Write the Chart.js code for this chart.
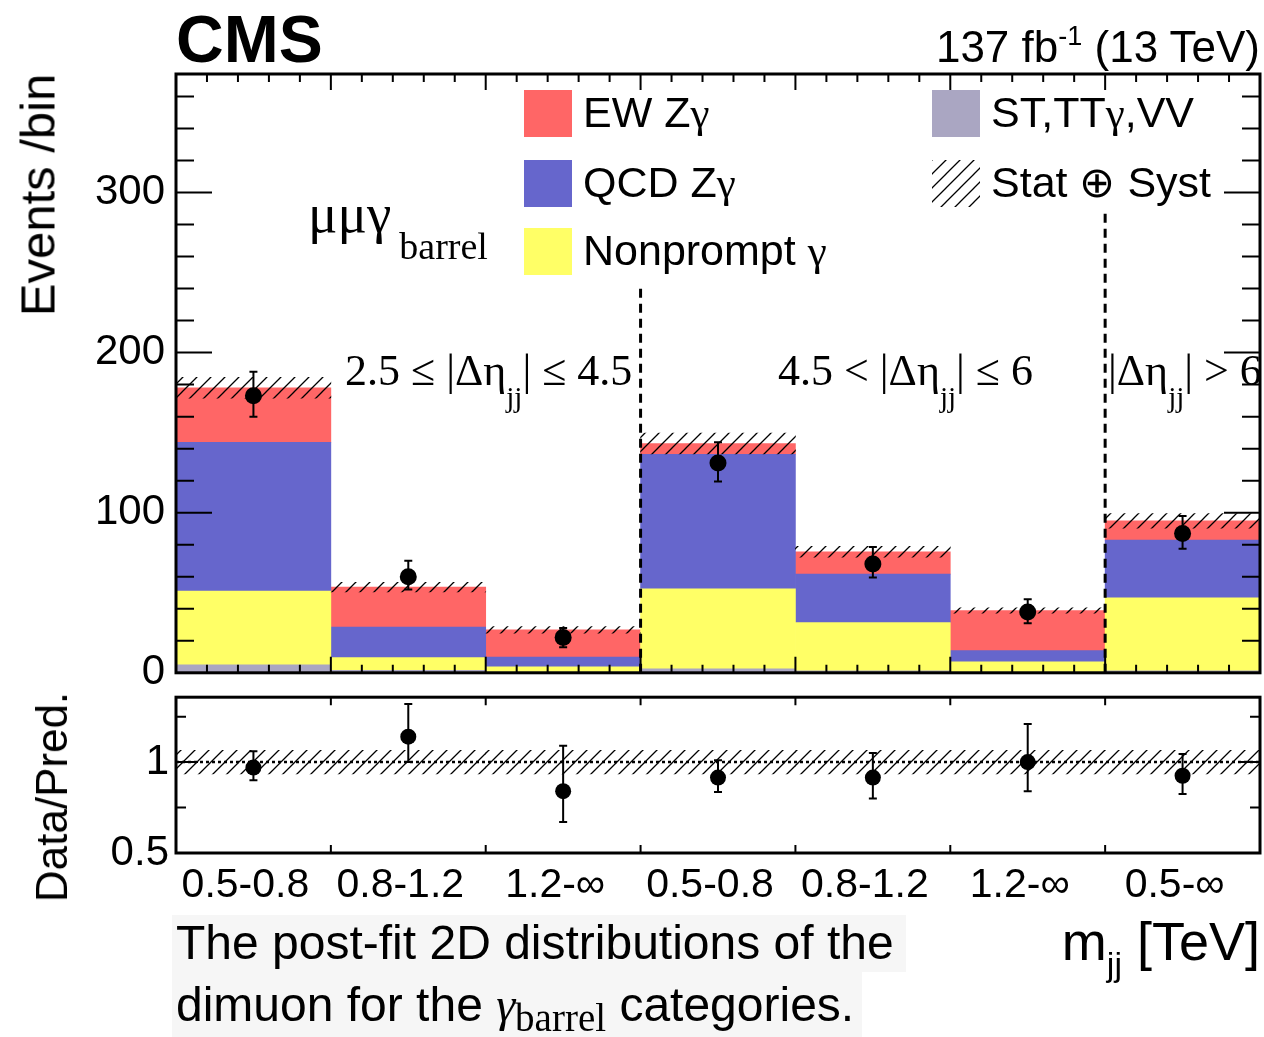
<!DOCTYPE html>
<html>
<head>
<meta charset="utf-8">
<script src="https://cdn.jsdelivr.net/npm/chart.js@4.4.0/dist/chart.umd.min.js"></script>
<style>
  body { margin: 0; background: #fff; width: 1264px; height: 1037px; position: relative; overflow: hidden;
         font-family: "Liberation Sans", Arial, Helvetica, sans-serif; color: #000; }
  canvas { position: absolute; left: 0; }
  #main { top: 0; }
  #ratio { top: 665px; }
  .t { position: absolute; white-space: nowrap; line-height: 1; }
  .serif { font-family: "Liberation Serif", "Times New Roman", serif; }
  .r { position: relative; }
  .box { position: absolute; width: 48px; height: 47px; }
  .capbg { position: absolute; background: #f6f6f6; }
</style>
</head>
<body>
<div class="capbg" style="left:172px;top:915px;width:734px;height:57px"></div>
<div class="capbg" style="left:172px;top:972px;width:690px;height:65px"></div>

<canvas id="main" width="1264" height="709"></canvas>
<canvas id="ratio" width="1264" height="255"></canvas>

<div class="t" style="left:176px;top:6px;font-size:66px;font-weight:bold">CMS</div>
<div class="t" style="right:4px;top:25px;font-size:44px">137 fb<span class="r" style="font-size:27px;top:-17px">-1</span> (13 TeV)</div>

<div class="t" style="left:38px;top:195px;font-size:49px;transform:translate(-50%,-50%) rotate(-90deg)">Events /bin</div>
<div class="t" style="left:52px;top:797px;font-size:44px;transform:translate(-50%,-50%) rotate(-90deg)">Data/Pred.</div>

<div id="legend"></div>

<div class="t serif" style="left:308px;top:186px;font-size:55px">μμγ<span class="r" style="font-size:38px;top:27px;margin-left:8px">barrel</span></div>
<div class="t serif" style="left:345px;top:349px;font-size:44px">2.5 ≤ |Δη<span class="r" style="font-size:29px;top:22px">jj</span>| ≤ 4.5</div>
<div class="t serif" style="left:778px;top:349px;font-size:44px">4.5 &lt; |Δη<span class="r" style="font-size:29px;top:22px">jj</span>| ≤ 6</div>
<div class="t serif" style="left:1108px;top:349px;font-size:44px">|Δη<span class="r" style="font-size:29px;top:22px">jj</span>| &gt; 6</div>

<div class="t" style="right:4px;top:914px;font-size:54px">m<span class="r" style="font-size:34px;top:16px">jj</span> [TeV]</div>

<div class="t" style="left:176px;top:919px;font-size:48px">The post-fit 2D distributions of the</div>
<div class="t" style="left:176px;top:981px;font-size:48px">dimuon for the <span class="serif" style="font-style:italic">γ</span><span class="r serif" style="font-size:39px;top:10px">barrel</span> categories.</div>

<script>
// bins in mjj, three |delta eta_jj| regions
const binLabels = ['0.5-0.8', '0.8-1.2', '1.2-∞', '0.5-0.8', '0.8-1.2', '1.2-∞', '0.5-∞'];

// post-fit prediction, stacked bottom to top
const stTTgVV   = [5, 1.5, 0.5, 2.5, 1.3, 0.5, 1.3];
const nonprompt = [46, 8, 3.3, 50, 30, 6.4, 45.6];
const qcdZg     = [93, 19, 6, 84, 30.3, 7, 36];
const ewZg      = [34, 25, 17, 6.7, 14, 25, 12];
const predUnc   = [6.5, 3, 2, 6.5, 3.4, 1.7, 4.6];

// data
const dataY    = [173, 60, 22, 131, 68, 38, 87];
const dataUp   = [15, 10, 6, 13, 10.5, 8, 11];
const dataDown = [13, 8, 6, 11.5, 8.5, 7, 9.5];

// ratio panel
const ratioY    = [0.97, 1.14, 0.84, 0.915, 0.915, 1.0, 0.925];
const ratioUp   = [0.09, 0.18, 0.25, 0.095, 0.135, 0.21, 0.12];
const ratioDown = [0.07, 0.14, 0.17, 0.08, 0.115, 0.16, 0.1];
const ratioUnc  = [0.065, 0.065, 0.065, 0.065, 0.065, 0.065, 0.065];

const colors = {
  ew: '#ff6666',
  qcd: '#6666cc',
  np: '#ffff66',
  st: '#aaa6c2'
};
const FONT = '"Liberation Sans", Arial, Helvetica, sans-serif';

// hatch like ROOT style 3004
function makeHatch() {
  const c = document.createElement('canvas');
  c.width = 14; c.height = 14;
  const g = c.getContext('2d');
  g.strokeStyle = '#000';
  g.lineWidth = 1.3;
  g.beginPath();
  g.moveTo(-1, 15); g.lineTo(15, -1);
  g.moveTo(-1, 1); g.lineTo(1, -1);
  g.moveTo(13, 15); g.lineTo(15, 13);
  g.stroke();
  return g.createPattern(c, 'repeat');
}
const hatch = makeHatch();

const totals = binLabels.map((_, i) => stTTgVV[i] + nonprompt[i] + qcdZg[i] + ewZg[i]);

// frame, inward ticks, error bars, dashed separators
const rootStyle = {
  id: 'rootStyle',
  afterDatasetsDraw(chart, args, opts) {
    const { ctx, chartArea: a, scales } = chart;
    const x = scales.x, y = scales.y;
    ctx.save();
    ctx.strokeStyle = '#000';

    if (opts.unity) {
      const py = y.getPixelForValue(1);
      ctx.lineWidth = 2.5;
      ctx.setLineDash([3, 3]);
      ctx.beginPath(); ctx.moveTo(a.left, py); ctx.lineTo(a.right, py); ctx.stroke();
      ctx.setLineDash([]);
    }

    (opts.separators || []).forEach(s => {
      const px = x.getPixelForValue(s.at);
      ctx.lineWidth = 3;
      ctx.setLineDash([9, 6]);
      ctx.beginPath(); ctx.moveTo(px, y.getPixelForValue(0)); ctx.lineTo(px, y.getPixelForValue(s.top)); ctx.stroke();
      ctx.setLineDash([]);
    });

    if (opts.errors) {
      const e = opts.errors;
      ctx.lineWidth = 2;
      ctx.beginPath();
      e.y.forEach((v, i) => {
        const px = x.getPixelForValue(i);
        const hi = y.getPixelForValue(v + e.up[i]);
        const lo = y.getPixelForValue(v - e.down[i]);
        ctx.moveTo(px, hi); ctx.lineTo(px, lo);
        ctx.moveTo(px - 4, hi); ctx.lineTo(px + 4, hi);
        ctx.moveTo(px - 4, lo); ctx.lineTo(px + 4, lo);
      });
      ctx.stroke();
    }

    ctx.lineWidth = 2;
    ctx.beginPath();
    opts.yTicks.forEach(([v, len]) => {
      const py = y.getPixelForValue(v);
      ctx.moveTo(a.left, py); ctx.lineTo(a.left + len, py);
      ctx.moveTo(a.right, py); ctx.lineTo(a.right - len, py);
    });
    opts.xTicks.forEach(([v, len]) => {
      const px = x.getPixelForValue(v);
      ctx.moveTo(px, a.bottom); ctx.lineTo(px, a.bottom - len);
      ctx.moveTo(px, a.top); ctx.lineTo(px, a.top + len);
    });
    ctx.stroke();

    ctx.lineWidth = 3;
    ctx.strokeRect(a.left, a.top, a.right - a.left, a.bottom - a.top);
    ctx.restore();
  }
};

const mainYTicks = [];
for (let v = 20; v <= 360; v += 20) mainYTicks.push([v, v % 100 === 0 ? 36 : 18]);
const mainXTicks = [];
for (let i = 1; i < binLabels.length; i++) mainXTicks.push([i - 0.5, 16]);
for (let i = 0; i < binLabels.length; i++) {
  for (let k = 1; k < 5; k++) mainXTicks.push([i - 0.5 + k / 5, 8]);
}

new Chart(document.getElementById('main'), {
  type: 'bar',
  data: {
    labels: binLabels,
    datasets: [
      { label: 'ST,TTγ,VV', data: stTTgVV, backgroundColor: colors.st, stack: 'pred' },
      { label: 'Nonprompt γ', data: nonprompt, backgroundColor: colors.np, stack: 'pred' },
      { label: 'QCD Zγ', data: qcdZg, backgroundColor: colors.qcd, stack: 'pred' },
      { label: 'EW Zγ', data: ewZg, backgroundColor: colors.ew, stack: 'pred' },
      { label: 'Stat ⊕ Syst', data: totals.map((t, i) => [t - predUnc[i], t + predUnc[i]]),
        backgroundColor: hatch, stack: 'unc', order: -1 },
      { type: 'line', label: 'Data', data: dataY, stack: 'data', showLine: false,
        pointRadius: 8.5, pointBackgroundColor: '#000', pointBorderWidth: 0, order: -2 }
    ]
  },
  options: {
    responsive: false,
    animation: false,
    datasets: { bar: { barPercentage: 1, categoryPercentage: 1, grouped: false, borderWidth: 0 } },
    layout: { autoPadding: false, padding: { top: 74, right: 4, bottom: 19, left: 0 } },
    plugins: {
      legend: { display: false },
      tooltip: { enabled: false },
      rootStyle: {
        yTicks: mainYTicks,
        xTicks: mainXTicks,
        separators: [{ at: 2.5, top: 240 }, { at: 5.5, top: 287 }],
        errors: { y: dataY, up: dataUp, down: dataDown }
      }
    },
    scales: {
      x: { display: false, stacked: true },
      y: {
        stacked: true, min: 0, max: 374,
        grid: { display: false, drawTicks: false },
        border: { display: false },
        ticks: { stepSize: 20, autoSkip: false, padding: 11, color: '#000', font: { family: FONT, size: 42 },
                 callback: v => (v % 100 === 0 ? String(v) : '') },
        afterFit: s => { s.width = 176; }
      }
    }
  },
  plugins: [rootStyle]
});

const ratioXTicks = [];
for (let i = 1; i < binLabels.length; i++) ratioXTicks.push([i - 0.5, 8]);

new Chart(document.getElementById('ratio'), {
  type: 'bar',
  data: {
    labels: binLabels,
    datasets: [
      { label: 'Stat ⊕ Syst', data: ratioUnc.map(u => [1 - u, 1 + u]), backgroundColor: hatch },
      { type: 'line', label: 'Data/Pred.', data: ratioY, showLine: false,
        pointRadius: 8, pointBackgroundColor: '#000', pointBorderWidth: 0, order: -2 }
    ]
  },
  options: {
    responsive: false,
    animation: false,
    datasets: { bar: { barPercentage: 1, categoryPercentage: 1, borderWidth: 0 } },
    layout: { autoPadding: false, padding: { top: 16, right: 4, bottom: 0, left: 0 } },
    plugins: {
      legend: { display: false },
      tooltip: { enabled: false },
      rootStyle: {
        yTicks: [[0.75, 10], [1, 22], [1.25, 10]],
        xTicks: ratioXTicks,
        unity: true,
        errors: { y: ratioY, up: ratioUp, down: ratioDown }
      }
    },
    scales: {
      x: {
        grid: { display: false, drawTicks: false },
        border: { display: false },
        ticks: { padding: 8, labelOffset: -8, color: '#000', font: { family: FONT, size: 41 }, maxRotation: 0, autoSkip: false },
        afterFit: s => { s.height = 67; }
      },
      y: {
        min: 0.5, max: 1.357,
        grid: { display: false, drawTicks: false },
        border: { display: false },
        ticks: { stepSize: 0.25, autoSkip: false, padding: 7, color: '#000', font: { family: FONT, size: 42 },
                 callback: v => (v === 1 ? '1' : v === 0.5 ? '0.5' : '') },
        afterFit: s => { s.width = 176; }
      }
    }
  },
  plugins: [rootStyle]
});

// legend, two columns as in the figure
const legendItems = [
  { col: 0, row: 0, fill: colors.ew, text: 'EW Z<span class="serif">γ</span>' },
  { col: 0, row: 1, fill: colors.qcd, text: 'QCD Z<span class="serif">γ</span>' },
  { col: 0, row: 2, fill: colors.np, text: 'Nonprompt <span class="serif">γ</span>' },
  { col: 1, row: 0, fill: colors.st, text: 'ST,TT<span class="serif">γ</span>,VV' },
  { col: 1, row: 1, fill: hatch, text: 'Stat ⊕ Syst' }
];
const legend = document.getElementById('legend');
legendItems.forEach(it => {
  const bx = it.col ? 932 : 524;
  const by = [90, 160, 228][it.row];
  const c = document.createElement('canvas');
  c.className = 'box';
  c.width = 48; c.height = 47;
  c.style.left = bx + 'px';
  c.style.top = by + 'px';
  const g = c.getContext('2d');
  g.fillStyle = it.fill;
  g.fillRect(0, 0, 48, 47);
  legend.appendChild(c);
  const d = document.createElement('div');
  d.className = 't';
  d.style.left = (bx + 59) + 'px';
  d.style.top = (by + 1) + 'px';
  d.style.fontSize = '43px';
  d.innerHTML = it.text;
  legend.appendChild(d);
});
</script>
</body>
</html>
